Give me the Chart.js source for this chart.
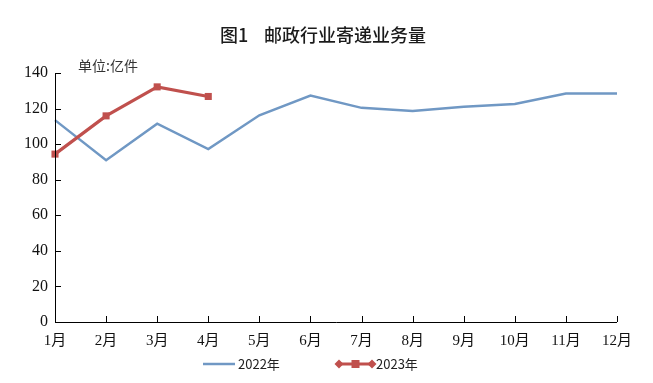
<!DOCTYPE html>
<html><head><meta charset="utf-8">
<script src="https://cdn.jsdelivr.net/npm/chart.js@4/dist/chart.umd.min.js"></script>
<style>html,body{margin:0;padding:0;background:#fff}#wrap{width:653px;height:383px;position:relative}</style>
</head><body><div id="wrap"><canvas id="c" width="653" height="383"></canvas></div>
<script>
const months = ['1月','2月','3月','4月','5月','6月','7月','8月','9月','10月','11月','12月'];
const seriesNames = ['2022年','2023年'];
const values2022 = [113.5, 91, 111.5, 97.2, 116.2, 127.3, 120.4, 118.7, 121, 122.6, 128.5, 128.5];
const values2023 = [94.4, 115.9, 132.2, 126.8];
const yTicks = [0, 20, 40, 60, 80, 100, 120, 140];
const titleText = ['图1', '邮政行业寄递业务量'];
const unitText = '单位:亿件';

const BLUE = '#7098c4', RED = '#c0504d';
const serif = '"Liberation Serif","Noto Sans CJK SC",serif';
const cjk = '"Noto Sans CJK SC",sans-serif';

const decor = {
  id: 'decor',
  afterDraw(chart) {
    const ctx = chart.ctx, x = chart.scales.x, y = chart.scales.y, a = chart.chartArea;
    ctx.save();
    ctx.strokeStyle = '#000'; ctx.lineWidth = 1;
    ctx.beginPath();
    ctx.moveTo(Math.round(a.left)+0.5, a.top); ctx.lineTo(Math.round(a.left)+0.5, Math.round(a.bottom)+0.5);
    ctx.lineTo(a.right, Math.round(a.bottom)+0.5);
    ctx.stroke();
    ctx.beginPath();
    y.ticks.forEach(t => { const py = Math.round(y.getPixelForValue(t.value))+0.5; ctx.moveTo(a.left, py); ctx.lineTo(a.left+6, py); });
    months.forEach((m,i) => { const px = Math.round(x.getPixelForValue(i))+0.5; ctx.moveTo(px, a.bottom); ctx.lineTo(px, a.bottom-6); });
    ctx.stroke();
    ctx.fillStyle = '#1a1a1a'; ctx.textBaseline = 'middle';
    ctx.font = '500 18px ' + cjk;
    ctx.textAlign = 'left';
    ctx.fillText(titleText[0], 220, 35);
    ctx.fillText(titleText[1], 264, 35);
    ctx.font = '14px ' + cjk; ctx.fillStyle = '#333';
    ctx.fillText(unitText, 78, 66);
    const ly = 364;
    ctx.lineWidth = 2.5; ctx.strokeStyle = BLUE;
    ctx.beginPath(); ctx.moveTo(203, ly); ctx.lineTo(235, ly); ctx.stroke();
    ctx.font = '13px ' + cjk; ctx.fillStyle = '#222';
    ctx.fillText(seriesNames[0], 238, ly);
    ctx.strokeStyle = RED; ctx.fillStyle = RED; ctx.lineWidth = 3;
    ctx.beginPath(); ctx.moveTo(339, ly); ctx.lineTo(372, ly); ctx.stroke();
    const dia = (cx) => { ctx.beginPath(); ctx.moveTo(cx-4.5, ly); ctx.lineTo(cx, ly-4.5); ctx.lineTo(cx+4.5, ly); ctx.lineTo(cx, ly+4.5); ctx.closePath(); ctx.fill(); };
    dia(339); dia(372);
    ctx.fillRect(351.5, ly-4, 8, 8);
    ctx.fillStyle = '#222';
    ctx.fillText(seriesNames[1], 376, ly);
    ctx.restore();
  }
};

new Chart(document.getElementById('c'), {
  type: 'line',
  data: {
    labels: months,
    datasets: [
      { label: seriesNames[0], data: values2022, borderColor: BLUE, borderWidth: 2.5, pointRadius: 0, tension: 0, order: 2 },
      { label: seriesNames[1], data: values2023, borderColor: RED, backgroundColor: RED, borderWidth: 3.2, pointStyle: 'rect', pointRadius: 5, pointBorderWidth: 0, tension: 0, order: 1 }
    ]
  },
  options: {
    responsive: false, animation: false, devicePixelRatio: 1,
    layout: { padding: { left: 0, right: 36, top: 73, bottom: 0 } },
    plugins: { legend: { display: false }, tooltip: { enabled: false } },
    scales: {
      x: {
        offset: false,
        grid: { display: false, drawTicks: false },
        border: { display: false },
        ticks: { font: { family: serif, size: 15 }, color: '#111', padding: 10, maxRotation: 0, autoSkip: false },
        afterFit(s) { s.height = 61; }
      },
      y: {
        min: 0, max: 140,
        afterBuildTicks(s) { s.ticks = yTicks.map(v => ({ value: v })); },
        grid: { display: false, drawTicks: false },
        border: { display: false },
        ticks: { font: { family: serif, size: 16 }, color: '#111', padding: 7 },
        afterFit(s) { s.width = 55; }
      }
    }
  },
  plugins: [decor]
});
</script>
</body></html>
